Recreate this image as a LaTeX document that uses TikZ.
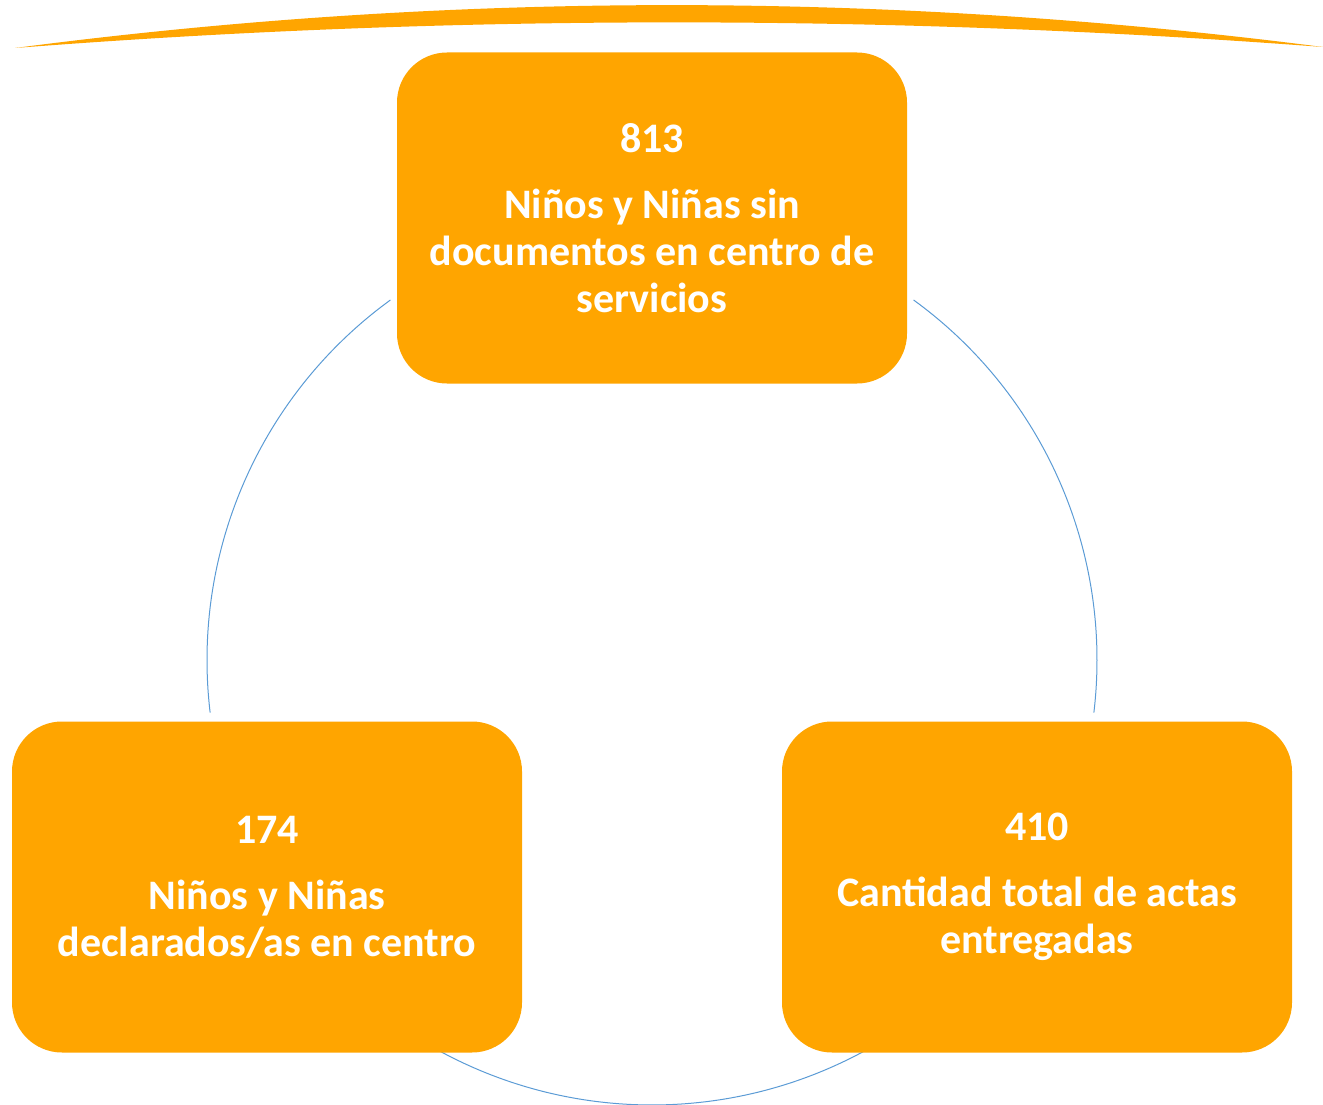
\documentclass[tikz,border=0pt]{standalone}
\usepackage{fontspec}
\setmainfont{Carlito}
\usepackage{tikz}
\usetikzlibrary{calc}

\definecolor{boxorange}{HTML}{FFA500}
\definecolor{ringblue}{HTML}{5B9BD5}

\begin{document}
\begin{tikzpicture}[x=1pt, y=1pt,
	countbox/.style={rectangle, rounded corners=50pt, fill=boxorange, text=white, minimum width=510pt, minimum height=331pt, align=center, font=\fontsize{42}{47}\selectfont\bfseries},
	ring/.style={draw=ringblue, line width=1pt},
	]
	\useasboundingbox (0, 0) rectangle (1323, -1105);
	
	% top crescent
	\fill[boxorange] (15, -48) .. controls (451, 9) and (887, 9) .. (1323, -47)
		.. controls (887, -14) and (451, -14) .. (15, -48) -- cycle;
	
	% ring behind the boxes
	\coordinate (centre) at (652, -660);
	\draw[ring] ($(centre)+(126:445)$) arc[start angle=126, end angle=186.8, radius=445];
	\draw[ring] ($(centre)+(241.6:445)$) arc[start angle=241.6, end angle=298.4, radius=445];
	\draw[ring] ($(centre)+(353.2:445)$) arc[start angle=353.2, end angle=414, radius=445];
	
	\node[countbox] at (652, -218) (sindoc) {813\\[19pt] Niños y Niñas sin\\ documentos en centro de\\ servicios};
	\node[countbox] at (267, -887) (declarados) {174\\[19pt] Niños y Niñas\\ declarados/as en centro};
	\node[countbox] at (1037, -887) (actas) {410\\[19pt] Cantidad total de actas\\ entregadas};
\end{tikzpicture}
\end{document}
